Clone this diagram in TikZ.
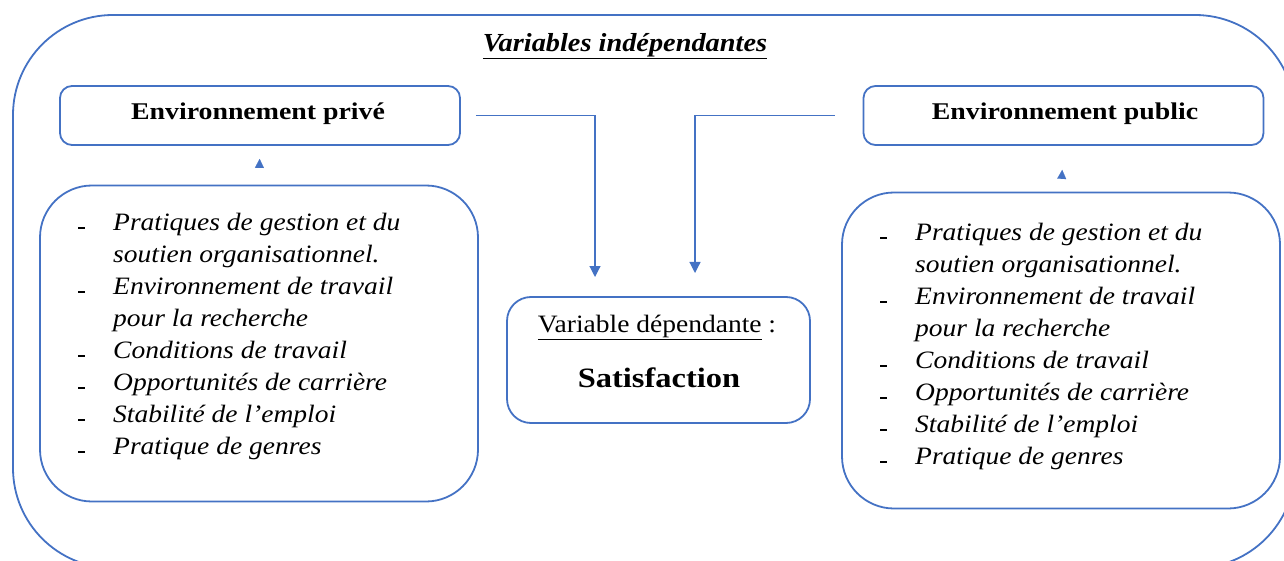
\documentclass[tikz,border=0pt]{standalone}
\usepackage{fontspec}
\setmainfont{Liberation Serif}[
  FakeStretch=1.1,
  BoldFeatures={FakeStretch=1.16},
  BoldItalicFeatures={FakeStretch=1.09}]
\usetikzlibrary{arrows.meta}
\definecolor{frameblue}{HTML}{4472C4}
\tikzset{
  frame/.style={draw=frameblue, line width=1.8pt, rounded corners=#1, inner sep=0pt},
  envbox/.style={frame=12pt, minimum width=400pt, minimum height=59pt},
  envlabel/.style={font=\fontsize{24}{28}\selectfont\bfseries},
  listbox/.style={frame=52pt, minimum width=438pt, minimum height=316pt},
  conn/.style={draw=frameblue, line width=1.2pt, -{Triangle[length=11pt,width=11pt]}},
  uptip/.style={draw=frameblue, line width=0.1pt, -{Triangle[length=9pt,width=9pt]}},
}
\newcommand{\itemdash}{\rule[1pt]{7pt}{1.8pt}}
\newcommand{\factorlist}{%
  \fontsize{25}{32}\selectfont
  \begin{tabular}{@{}p{35pt}@{}l@{}}
  \itemdash & \itshape Pratiques de gestion et du\\
            & \itshape soutien organisationnel.\\
  \itemdash & \itshape Environnement de travail\\
            & \itshape pour la recherche\\
  \itemdash & \itshape Conditions de travail\\
  \itemdash & \itshape Opportunités de carrière\\
  \itemdash & \itshape Stabilité de l’emploi\\
  \itemdash & \itshape Pratique de genres\\
  \end{tabular}}
\begin{document}
\begin{tikzpicture}[x=1pt,y=-1pt]
  \useasboundingbox (0,0) rectangle (1284,561);
  \begin{scope}
    \clip (0,0) rectangle (1284,561);
    % outer frame of the independent variables
    \node[frame=100pt, minimum width=1282pt, minimum height=553pt] (outer) at (654,291.5) {};
  \end{scope}

  \node[anchor=base, inner sep=0pt, font=\fontsize{26}{30}\selectfont\bfseries\itshape] (title) at (625,51.5)
    {\underline{Variables indépendantes}};

  % the two environments
  \node[envbox] (lenv) at (260,115.5) {};
  \node[envlabel, anchor=base, inner sep=0pt] (lenvlabel) at (258,119.5) {Environnement privé};
  \node[envbox] (renv) at (1063.5,115.5) {};
  \node[envlabel, anchor=base, inner sep=0pt] (renvlabel) at (1065,119.5) {Environnement public};

  % factor lists
  \node[listbox] (llist) at (259,343.5) {};
  \node[anchor=north west, inner sep=0pt] (ltext) at (78,207.6) {\factorlist};
  \node[listbox] (rlist) at (1061,350.5) {};
  \node[anchor=north west, inner sep=0pt] (rtext) at (880,217.6) {\factorlist};

  % dependent variable
  \node[frame=24pt, minimum width=303pt, minimum height=126pt] (sat) at (658.5,360) {};
  \node[anchor=base, inner sep=0pt, font=\fontsize{25}{29}\selectfont] (deplabel) at (657,332)
    {\underline{Variable dépendante} :};
  \node[anchor=base, inner sep=0pt, font=\fontsize{28}{32}\selectfont\bfseries] (satlabel) at (659,387)
    {Satisfaction};

  % list -> environment tips
  \draw[uptip, shorten <=19pt, shorten >=13pt] (llist.north) -- (lenv.south);
  \draw[uptip, shorten <=15pt, shorten >=24pt] (rlist.north) -- (renv.south);

  % environments -> satisfaction
  \coordinate (la) at (595,277);
  \coordinate (ra) at (695,273);
  \draw[conn] ([xshift=15pt]lenv.east) -| (la);
  \draw[conn] ([xshift=-28pt]renv.west) -| (ra);
\end{tikzpicture}
\end{document}
